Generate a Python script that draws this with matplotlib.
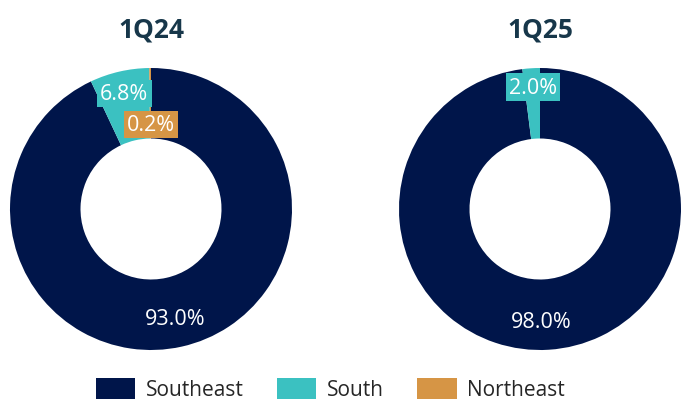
import matplotlib.pyplot as plt
from matplotlib.patches import Patch

# data
regions = ["Southeast", "South", "Northeast"]
colors = ["#00154A", "#3BC1C1", "#D69545"]
titles = ["1Q24", "1Q25"]
share_1q24 = [93.0, 6.8, 0.2]
share_1q25 = [98.0, 2.0, 0.0]
# label spots (x, y) in donut units
label_pos_1q24 = [(0.17, -0.78), (-0.19, 0.82), (0.0, 0.60)]
label_pos_1q25 = [(0.01, -0.80), (-0.05, 0.865), None]

plt.rcParams['font.family'] = ['Open Sans', 'DejaVu Sans']

fig = plt.figure(figsize=(6.81, 4.02), dpi=100)
W, H = 681, 402

def draw(cx, cy, r, vals, pos, title):
    ax = fig.add_axes([(cx - r) / W, (H - cy - r) / H, 2 * r / W, 2 * r / H])
    ax.pie(vals, colors=colors, startangle=90, counterclock=False,
           radius=1.0, wedgeprops=dict(width=0.5, edgecolor='none'))
    ax.set_xlim(-1, 1)
    ax.set_ylim(-1, 1)
    ax.set_aspect('equal')
    ax.axis('off')
    for v, c, p in zip(vals, colors, pos):
        if p is None or v <= 0:
            continue
        ax.text(p[0], p[1], f"{v:.1f}%", ha='center', va='center',
                color='white', fontsize=15.5,
                bbox=dict(boxstyle='square,pad=0.15', facecolor=c, edgecolor='none'))
    fig.text(cx / W, 1 - 30 / H, title, ha='center', va='center',
             fontsize=19, fontweight='bold', color='#17374A')

draw(151, 210, 141, share_1q24, label_pos_1q24, titles[0])
draw(540, 210, 141, share_1q25, label_pos_1q25, titles[1])

handles = [Patch(facecolor=c, edgecolor='none') for c in colors]
fig.legend(handles, regions, loc='center', bbox_to_anchor=(0.485, 1 - 390 / H),
           ncol=3, frameon=False, fontsize=15, handlelength=1.9, handleheight=1.2,
           columnspacing=1.6, handletextpad=0.5, labelcolor='#262626')

fig.savefig('out.png', dpi=100)
